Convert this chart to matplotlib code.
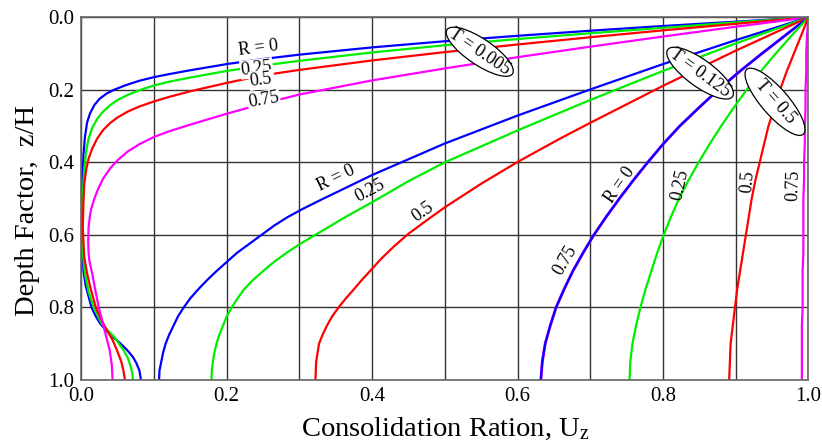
import numpy as np
import matplotlib
matplotlib.use('Agg')
import matplotlib.pyplot as plt
import matplotlib.transforms as mtransforms
from matplotlib.patches import Ellipse

plt.rcParams['font.family'] = 'Liberation Serif'
plt.rcParams['mathtext.fontset'] = 'stix'

# ---- T = 0.005 (U_z, z/H) ----
t005_r0_u = [1.0, 0.9, 0.8, 0.7, 0.6, 0.5, 0.4, 0.3, 0.25, 0.2, 0.15, 0.12, 0.1, 0.08, 0.06, 0.045, 0.035,
             0.025, 0.018, 0.012, 0.008, 0.005, 0.003, 0.002, 0.001, 0.001, 0.002, 0.003, 0.006, 0.010,
             0.014, 0.020, 0.026, 0.034, 0.043, 0.054, 0.063, 0.071, 0.076, 0.080, 0.082]
t005_r0_z = [0.0, 0.012, 0.024, 0.037, 0.051, 0.066, 0.083, 0.103, 0.115, 0.129, 0.146, 0.157, 0.165, 0.175, 0.188, 0.200, 0.210,
             0.225, 0.242, 0.265, 0.29, 0.33, 0.38, 0.43, 0.50, 0.60, 0.65, 0.70, 0.74, 0.77,
             0.80, 0.825, 0.845, 0.863, 0.881, 0.90, 0.918, 0.937, 0.955, 0.975, 1.0]

t005_r25_u = [1.0, 0.9, 0.8, 0.7, 0.6, 0.5, 0.4, 0.3, 0.25, 0.2, 0.15, 0.12, 0.1, 0.08, 0.064, 0.05, 0.04,
              0.03, 0.022, 0.015, 0.010, 0.007, 0.004, 0.002, 0.001, 0.001, 0.002, 0.005, 0.010, 0.017,
              0.028, 0.036, 0.045, 0.058, 0.064, 0.068, 0.070, 0.071]
t005_r25_z = [0.0, 0.014, 0.029, 0.044, 0.060, 0.077, 0.097, 0.120, 0.133, 0.148, 0.166, 0.178, 0.188, 0.201, 0.214, 0.228, 0.242,
              0.260, 0.280, 0.305, 0.335, 0.365, 0.42, 0.49, 0.55, 0.60, 0.65, 0.707, 0.757, 0.80,
              0.845, 0.863, 0.881, 0.918, 0.94, 0.964, 0.98, 1.0]

t005_r50_u = [1.0, 0.9, 0.8, 0.7, 0.6, 0.5, 0.4, 0.3, 0.25, 0.2, 0.15, 0.12, 0.1, 0.08, 0.064, 0.05, 0.04,
              0.03, 0.022, 0.015, 0.010, 0.007, 0.004, 0.003, 0.002, 0.004, 0.008, 0.013, 0.020, 0.027,
              0.035, 0.043, 0.049, 0.055, 0.058, 0.060]
t005_r50_z = [0.0, 0.018, 0.036, 0.055, 0.075, 0.096, 0.119, 0.145, 0.160, 0.181, 0.204, 0.220, 0.232, 0.246, 0.260, 0.276, 0.291,
              0.311, 0.334, 0.362, 0.390, 0.417, 0.462, 0.51, 0.58, 0.66, 0.707, 0.75, 0.80, 0.832,
              0.863, 0.89, 0.918, 0.95, 0.975, 1.0]

t005_r75_u = [1.0, 0.9, 0.8, 0.7, 0.6, 0.5, 0.4, 0.3, 0.25, 0.2, 0.15, 0.12, 0.1, 0.08, 0.064, 0.05, 0.04,
              0.03, 0.023, 0.018, 0.014, 0.012, 0.010, 0.0095, 0.010, 0.011, 0.015, 0.019, 0.024, 0.032, 0.039,
              0.042, 0.043]
t005_r75_z = [0.0, 0.026, 0.053, 0.081, 0.110, 0.141, 0.174, 0.213, 0.238, 0.266, 0.296, 0.315, 0.330, 0.350, 0.370, 0.394, 0.416,
              0.445, 0.474, 0.500, 0.526, 0.545, 0.58, 0.62, 0.65, 0.67, 0.707, 0.75, 0.80, 0.863, 0.918,
              0.96, 1.0]

# ---- T = 0.125 ----
t125_r0_u = [1.0, 0.9, 0.8, 0.7, 0.6, 0.5, 0.4, 0.36, 0.33, 0.305, 0.283, 0.265, 0.248, 0.231, 0.214, 0.200,
             0.186, 0.173, 0.161, 0.150, 0.141, 0.133, 0.127, 0.121, 0.116, 0.1125, 0.110, 0.1075, 0.107]
t125_r0_z = [0.0, 0.063, 0.129, 0.199, 0.271, 0.348, 0.435, 0.474, 0.503, 0.528, 0.552, 0.575, 0.60, 0.625, 0.65, 0.675,
             0.70, 0.725, 0.75, 0.775, 0.80, 0.825, 0.85, 0.875, 0.90, 0.925, 0.95, 0.975, 1.0]

t125_r25_u = [1.0, 0.9, 0.8, 0.7, 0.6, 0.5, 0.45, 0.4, 0.364, 0.343, 0.322, 0.301, 0.282, 0.265, 0.250, 0.236,
              0.224, 0.215, 0.207, 0.200, 0.195, 0.190, 0.186, 0.183, 0.181, 0.1795, 0.179]
t125_r25_z = [0.0, 0.072, 0.148, 0.228, 0.312, 0.400, 0.452, 0.510, 0.550, 0.575, 0.60, 0.625, 0.65, 0.675, 0.70, 0.725,
              0.75, 0.775, 0.80, 0.825, 0.85, 0.875, 0.90, 0.925, 0.95, 0.975, 1.0]

t125_r50_u = [1.0, 0.9, 0.8, 0.7, 0.658, 0.6, 0.55, 0.5, 0.475, 0.45, 0.430, 0.412, 0.398, 0.386, 0.375, 0.364,
              0.354, 0.345, 0.338, 0.332, 0.327, 0.325, 0.323, 0.3225, 0.322]
t125_r50_z = [0.0, 0.092, 0.189, 0.291, 0.335, 0.399, 0.459, 0.524, 0.560, 0.597, 0.632, 0.667, 0.698, 0.724, 0.75, 0.775,
              0.80, 0.825, 0.85, 0.875, 0.90, 0.925, 0.95, 0.975, 1.0]

t125_r75_u = [1.0, 0.968, 0.936, 0.905, 0.876, 0.849, 0.823, 0.800, 0.779, 0.759, 0.740, 0.722, 0.705, 0.690,
              0.676, 0.664, 0.653, 0.645, 0.638, 0.634, 0.632]
t125_r75_z = [0.0, 0.05, 0.1, 0.15, 0.2, 0.25, 0.3, 0.35, 0.4, 0.45, 0.5, 0.55, 0.6, 0.65,
              0.7, 0.75, 0.8, 0.85, 0.9, 0.95, 1.0]

# ---- T = 0.5 ----
t05_z = [0.0, 0.05, 0.1, 0.15, 0.2, 0.25, 0.3, 0.35, 0.4, 0.45, 0.5, 0.55, 0.6, 0.65,
         0.7, 0.75, 0.8, 0.85, 0.9, 0.95, 1.0]
t05_r0_u = [1.0, 0.968, 0.936, 0.905, 0.876, 0.849, 0.823, 0.800, 0.779, 0.759, 0.740, 0.722, 0.705, 0.690,
            0.676, 0.664, 0.653, 0.645, 0.638, 0.634, 0.632]
t05_r25_u = [1.0, 0.977, 0.955, 0.934, 0.915, 0.897, 0.880, 0.864, 0.849, 0.835, 0.822, 0.811, 0.801, 0.792,
             0.784, 0.776, 0.769, 0.763, 0.758, 0.755, 0.754]
t05_r50_u = [1.0, 0.990, 0.980, 0.970, 0.961, 0.953, 0.945, 0.939, 0.933, 0.927, 0.922, 0.918, 0.914, 0.910,
             0.906, 0.902, 0.899, 0.896, 0.893, 0.892, 0.891]
t05_r75_u = [1.0, 0.998, 0.997, 0.997, 0.996, 0.996, 0.995, 0.995, 0.994, 0.994, 0.993, 0.993, 0.993, 0.993,
             0.992, 0.992, 0.992, 0.991, 0.991, 0.991, 0.991]

BLUE, GREEN, RED, MAG = '#0000ff', '#00ee00', '#ff0000', '#ff00ff'
lw = 1.6

fig = plt.figure(figsize=(8.22, 4.45), dpi=100)
ax = fig.add_axes([0.0989, 0.1465, 0.8846, 0.8146])

ax.plot(t005_r0_u, t005_r0_z, color=BLUE, lw=lw)
ax.plot(t005_r25_u, t005_r25_z, color=GREEN, lw=lw)
ax.plot(t005_r50_u, t005_r50_z, color=RED, lw=lw)
ax.plot(t005_r75_u, t005_r75_z, color=MAG, lw=lw)

ax.plot(t125_r0_u, t125_r0_z, color=BLUE, lw=lw)
ax.plot(t125_r25_u, t125_r25_z, color=GREEN, lw=lw)
ax.plot(t125_r50_u, t125_r50_z, color=RED, lw=lw)
ax.plot(t125_r75_u, t125_r75_z, color=MAG, lw=lw + 0.5)

ax.plot(t05_r0_u, t05_z, color=BLUE, lw=lw)
ax.plot(t05_r25_u, t05_z, color=GREEN, lw=lw)
ax.plot(t05_r50_u, t05_z, color=RED, lw=lw)
ax.plot(t05_r75_u, t05_z, color=MAG, lw=lw)

ax.set_xlim(0, 1)
ax.set_ylim(1, 0)
ax.set_xticks(np.arange(0, 1.01, 0.2))
ax.set_xticks(np.arange(0.1, 1.0, 0.2), minor=True)
ax.set_yticks(np.arange(0, 1.01, 0.2))
ax.set_xticklabels(['%.1f' % v for v in np.arange(0, 1.01, 0.2)])
ax.set_yticklabels(['%.1f' % v for v in np.arange(0, 1.01, 0.2)])
ax.grid(True, which='both', axis='x', color='0.2', lw=1.0)
ax.grid(True, which='major', axis='y', color='0.2', lw=1.0)
ax.tick_params(which='both', length=0, labelsize=15, pad=5)
for s in ax.spines.values():
    s.set_color('0.4')
    s.set_linewidth(1.2)

ax.set_xlabel(r'Consolidation Ration, $\mathregular{U_z}$', fontsize=20.5, labelpad=7)
fig.text(0.034, 0.528, 'Depth Factor,  z/H', fontsize=20.5, rotation=90, ha='center', va='center')

wb = dict(boxstyle='square,pad=0.05', fc='white', ec='none')
fs = 13
# labels that sit on top of the curves (white background)
on_line = [('0.25', 0.241, 0.141, 7), ('0.5', 0.247, 0.173, 8), ('0.75', 0.251, 0.228, 10)]
for txt, x, y, rot in on_line:
    ax.text(x, y, txt, fontsize=fs, rotation=rot, rotation_mode='anchor',
            ha='center', va='center', bbox=wb, zorder=5)
beside = [
    ('R = 0', 0.243, 0.086, 7),
    ('R = 0', 0.350, 0.443, 26), ('0.25', 0.397, 0.478, 28), ('0.5', 0.470, 0.536, 35),
    ('0.75', 0.665, 0.669, 60),
    ('R = 0', 0.741, 0.463, 55), ('0.25', 0.823, 0.463, 78), ('0.5', 0.917, 0.453, 85), ('0.75', 0.980, 0.463, 88),
]
for txt, x, y, rot in beside:
    ax.text(x, y, txt, fontsize=fs, rotation=rot, rotation_mode='anchor',
            ha='center', va='center', zorder=5)

# T labels inside rotated ellipses
tlabels = [('T = 0.005', 0.548, 0.095, -34, 0.79, 0.26),
           ('T = 0.125', 0.851, 0.154, -36, 0.80, 0.27),
           ('T = 0.5', 0.954, 0.233, -49, 0.86, 0.27)]
for txt, x, y, ang, w, h in tlabels:
    tr = fig.dpi_scale_trans + mtransforms.ScaledTranslation(x, y, ax.transData)
    ax.add_patch(Ellipse((0, 0), w, h, angle=ang, transform=tr, fc='white', ec='black', lw=0.9,
                         zorder=6, clip_on=False))
    ax.text(x, y, txt, fontsize=13, rotation=ang, rotation_mode='anchor',
            ha='center', va='center', zorder=7)

fig.savefig('out.png', dpi=100)
